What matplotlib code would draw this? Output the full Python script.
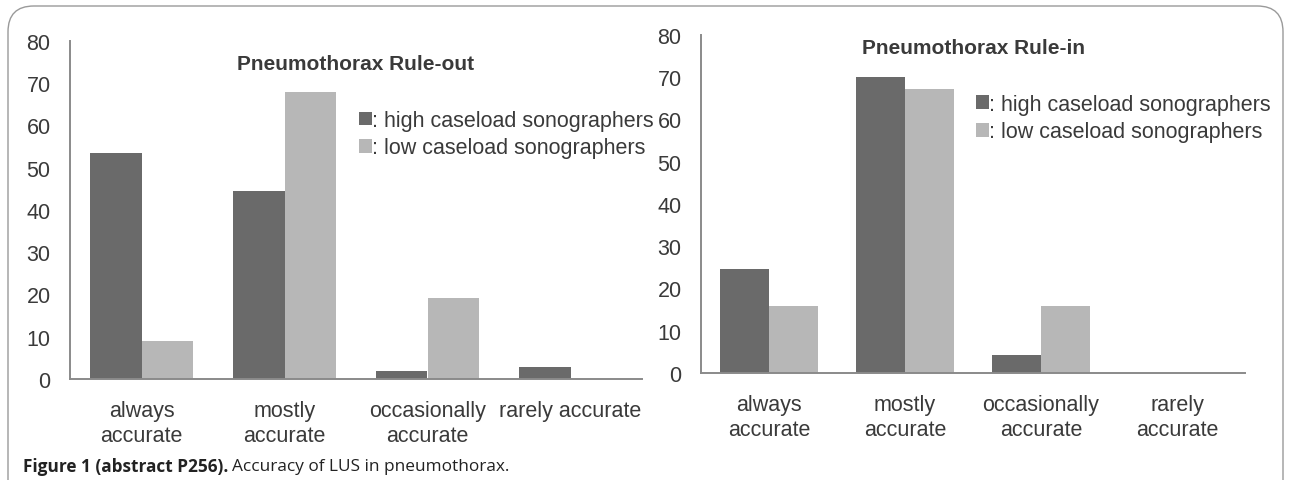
import matplotlib
matplotlib.use("Agg")
import matplotlib.pyplot as plt
import numpy as np
from matplotlib.patches import FancyBboxPatch

plt.rcParams['font.family'] = ['Liberation Sans', 'DejaVu Sans']

# 응답 비율 (%)
series_names = [': high caseload sonographers', ': low caseload sonographers']
ruleout_labels = ['always\naccurate', 'mostly\naccurate', 'occasionally\naccurate', 'rarely accurate']
ruleout_high = [53.5, 44.6, 2.0, 2.9]
ruleout_low = [9.0, 68.0, 19.2, 0.0]
rulein_labels = ['always\naccurate', 'mostly\naccurate', 'occasionally\naccurate', 'rarely\naccurate']
rulein_high = [24.7, 70.0, 4.2, 0.0]
rulein_low = [15.8, 67.2, 15.8, 0.0]

DARK = '#6a6a6a'
LIGHT = '#b7b7b7'
TEXT = '#3a3a3a'
AXIS = '#8a8a8a'

W, H = 1290, 481
fig = plt.figure(figsize=(W / 100, H / 100), dpi=100)


def draw_panel(rect, title, title_y, labels, high, low, legend_xy):
    ax = fig.add_axes(rect)
    x = np.arange(len(labels))
    bw = 0.36
    ax.bar(x - bw / 2, high, bw, color=DARK, label=series_names[0])
    ax.bar(x + bw / 2, low, bw, color=LIGHT, label=series_names[1])
    ax.set_xlim(-0.5, len(labels) - 0.5)
    ax.set_ylim(0, 80)
    ax.set_yticks(range(0, 81, 10))
    ax.set_xticks(x)
    ax.set_xticklabels(labels, linespacing=1.25)
    ax.tick_params(axis='both', length=0, labelsize=15.5, colors=TEXT)
    ax.tick_params(axis='y', pad=14)
    ax.tick_params(axis='x', pad=15)
    for s in ['top', 'right']:
        ax.spines[s].set_visible(False)
    for s in ['left', 'bottom']:
        ax.spines[s].set_color(AXIS)
        ax.spines[s].set_linewidth(1.4)
    ax.text(0.5, title_y, title, transform=ax.transAxes, ha='center', va='center',
            fontsize=15, fontweight='bold', color=TEXT)
    leg = ax.legend(loc='upper left', bbox_to_anchor=legend_xy, frameon=False,
                    handlelength=0.6, handleheight=0.6, handletextpad=0.0,
                    labelspacing=0.3, fontsize=15.5, borderpad=0, borderaxespad=0)
    for t in leg.get_texts():
        t.set_color(TEXT)
    leg.set_clip_on(False)
    return ax


draw_panel([70 / W, 101 / H, 572 / W, 338 / H], 'Pneumothorax Rule-out', 0.932,
           ruleout_labels, ruleout_high, ruleout_low, (0.505, 0.796))
draw_panel([701 / W, 107 / H, 544 / W, 338 / H], 'Pneumothorax Rule-in', 0.962,
           rulein_labels, rulein_high, rulein_low, (0.505, 0.826))

# 바깥 테두리 (아래쪽은 열려 있음)
frame = FancyBboxPatch((8 / W, -0.2), (1283 - 8) / W, (H - 7) / H + 0.2,
                       boxstyle='round,pad=0,rounding_size=0.02',
                       transform=fig.transFigure, fill=False,
                       edgecolor='#9a9a9a', linewidth=1.0, mutation_aspect=W / H)
fig.patches.append(frame)

cap = fig.text(23 / W, 1 - 467 / H, 'Figure 1 (abstract P256).', fontsize=12.4,
               fontweight='bold', family=['Open Sans', 'DejaVu Sans'],
               color='#222222', va='center', ha='left')
fig.canvas.draw()
bb = cap.get_window_extent()
fig.text((bb.x1 + 4) / W, 1 - 467 / H, 'Accuracy of LUS in pneumothorax.', fontsize=12.4,
         family=['Open Sans', 'DejaVu Sans'], color='#222222', va='center', ha='left')

fig.savefig('out.png', dpi=100)
